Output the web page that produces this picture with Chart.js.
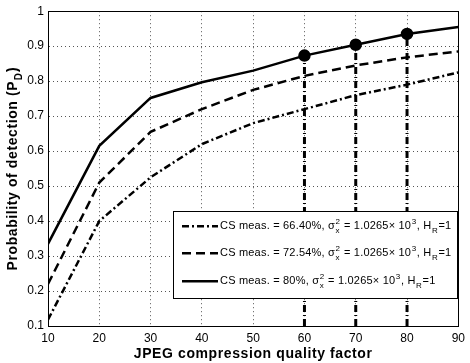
<!DOCTYPE html>
<html>
<head>
<meta charset="utf-8">
<script src="https://cdn.jsdelivr.net/npm/chart.js@4.4.1/dist/chart.umd.min.js"></script>
<style>
  html, body { margin: 0; padding: 0; background: #fff; }
  #wrap { width: 470px; height: 363px; }
</style>
</head>
<body>
<div id="wrap"><canvas id="c" width="470" height="363"></canvas></div>
<script>
// ---- data ----
const qualityFactors = [10, 20, 30, 40, 50, 60, 70, 80, 90];
const pdCS66 = [0.118, 0.40, 0.525, 0.62, 0.68, 0.72, 0.76, 0.79, 0.825];
const pdCS72 = [0.22, 0.51, 0.655, 0.72, 0.775, 0.815, 0.845, 0.868, 0.885];
const pdCS80 = [0.335, 0.615, 0.752, 0.797, 0.83, 0.873, 0.904, 0.935, 0.955];
const markedQualities = [60, 70, 80];
const yTickValues = [0.1, 0.2, 0.3, 0.4, 0.5, 0.6, 0.7, 0.8, 0.9, 1];
const xTitle = [{ t: 'JPEG compression quality factor' }];
const yTitle = [{ t: 'Probability of detection (P' }, { t: 'D', sub: true }, { t: ')' }];
const legendLabels = [
  [{ t: 'CS meas. = 66.40%, σ' }, { t: '2', t2: 'x', stack: true }, { t: ' = 1.0265× 10' }, { t: '3', sup: true }, { t: ', H' }, { t: 'R', sub: true }, { t: '=1' }],
  [{ t: 'CS meas. = 72.54%, σ' }, { t: '2', t2: 'x', stack: true }, { t: ' = 1.0265× 10' }, { t: '3', sup: true }, { t: ', H' }, { t: 'R', sub: true }, { t: '=1' }],
  [{ t: 'CS meas. = 80%, σ' }, { t: '2', t2: 'x', stack: true }, { t: ' = 1.0265× 10' }, { t: '3', sup: true }, { t: ', H' }, { t: 'R', sub: true }, { t: '=1' }]
];

const FONT = '"Liberation Sans", Arial, Helvetica, sans-serif';

function pts(ys) { return qualityFactors.map((q, i) => ({ x: q, y: ys[i] })); }

const seriesDatasets = [
  { data: pts(pdCS66), borderColor: '#000', borderWidth: 2.5, borderDash: [7, 3, 2, 3], pointRadius: 0, legendIdx: 0 },
  { data: pts(pdCS72), borderColor: '#000', borderWidth: 2.5, borderDash: [9, 5], pointRadius: 0, legendIdx: 1 },
  { data: pts(pdCS80), borderColor: '#000', borderWidth: 2.5, borderDash: [],
    pointRadius: qualityFactors.map(q => markedQualities.includes(q) ? 5 : 0),
    pointBackgroundColor: '#000', pointBorderColor: '#000', pointHoverRadius: 0, legendIdx: 2 }
];
const verticalDatasets = markedQualities.map(q => ({
  data: [{ x: q, y: yTickValues[0] }, { x: q, y: pdCS80[qualityFactors.indexOf(q)] }],
  borderColor: '#000', borderWidth: 3, borderDash: [7, 3, 1, 3], pointRadius: 0
}));

// rich text helpers
function richWidth(ctx, segs, size, weight, spacing) {
  let w = 0;
  const small = Math.round(size * 0.7);
  ctx.letterSpacing = spacing + 'px';
  segs.forEach(s => {
    if (s.stack || s.sub || s.sup) {
      ctx.font = weight + ' ' + small + 'px ' + FONT;
      const w1 = ctx.measureText(s.t).width;
      const w2 = s.t2 ? ctx.measureText(s.t2).width : 0;
      w += Math.max(w1, w2) + 1;
    } else {
      ctx.font = weight + ' ' + size + 'px ' + FONT;
      w += ctx.measureText(s.t).width;
    }
  });
  return w;
}
function drawRich(ctx, segs, x, y, size, weight, spacing) {
  ctx.textBaseline = 'middle';
  ctx.textAlign = 'left';
  ctx.letterSpacing = spacing + 'px';
  const small = Math.round(size * 0.7);
  segs.forEach(s => {
    if (s.stack) {
      ctx.font = weight + ' ' + small + 'px ' + FONT;
      ctx.fillText(s.t, x + 0.5, y - size * 0.4);
      ctx.fillText(s.t2, x + 0.5, y + size * 0.45);
      x += Math.max(ctx.measureText(s.t).width, ctx.measureText(s.t2).width) + 1;
    } else if (s.sup || s.sub) {
      ctx.font = weight + ' ' + small + 'px ' + FONT;
      ctx.fillText(s.t, x + 0.5, y + (s.sup ? -size * 0.4 : size * 0.45));
      x += ctx.measureText(s.t).width + 1;
    } else {
      ctx.font = weight + ' ' + size + 'px ' + FONT;
      ctx.fillText(s.t, x, y);
      x += ctx.measureText(s.t).width;
    }
  });
  ctx.letterSpacing = '0px';
}

const framePlugin = {
  id: 'frame',
  afterDatasetsDraw(chart) {
    const { ctx, chartArea: a } = chart;
    ctx.save();
    ctx.strokeStyle = '#000';
    ctx.lineWidth = 1;
    ctx.setLineDash([]);
    ctx.strokeRect(Math.round(a.left) + 0.5, Math.round(a.top) + 0.5, Math.round(a.right - a.left), Math.round(a.bottom - a.top));

    // legend box
    const lx = a.left + 125, ly = a.top + 200, lw = 284, lh = 87;
    ctx.fillStyle = '#fff';
    ctx.fillRect(lx, ly, lw, lh);
    ctx.strokeRect(Math.round(lx) + 0.5, Math.round(ly) + 0.5, lw, lh);
    const rowsY = [ly + 15, ly + 42, ly + 70];
    seriesDatasets.forEach(ds => {
      const i = ds.legendIdx;
      const ry = rowsY[i];
      ctx.beginPath();
      ctx.setLineDash(ds.borderDash);
      ctx.lineWidth = ds.borderWidth;
      ctx.strokeStyle = '#000';
      ctx.moveTo(lx + 9, ry);
      ctx.lineTo(lx + 45, ry);
      ctx.stroke();
      ctx.setLineDash([]);
      ctx.fillStyle = '#000';
      drawRich(ctx, legendLabels[i], lx + 47, ry, 11, 'normal', 0.2);
    });

    ctx.fillStyle = '#000';
    // x title
    const xw = richWidth(ctx, xTitle, 14, 'bold', 0.6);
    drawRich(ctx, xTitle, (a.left + a.right) / 2 - xw / 2, 354, 14, 'bold', 0.6);

    // y title with subscript
    ctx.save();
    const cy = (a.top + a.bottom) / 2;
    ctx.translate(13, cy);
    ctx.rotate(-Math.PI / 2);
    const w = richWidth(ctx, yTitle, 14, 'bold', 0.6);
    drawRich(ctx, yTitle, -w / 2, 0, 14, 'bold', 0.6);
    ctx.restore();
    ctx.restore();
  }
};

new Chart(document.getElementById('c'), {
  type: 'line',
  data: { datasets: [...verticalDatasets, ...seriesDatasets] },
  options: {
    responsive: false,
    animation: false,
    devicePixelRatio: 1,
    layout: { padding: { left: 0, right: 7, top: 5, bottom: 0 } },
    plugins: { legend: { display: false }, tooltip: { enabled: false } },
    elements: { line: { tension: 0 } },
    scales: {
      x: {
        type: 'linear', min: 10, max: 90,
        afterFit: s => { s.height = 37; },
        ticks: { stepSize: 10, color: '#000', font: { family: FONT, size: 12 }, padding: 5, maxRotation: 0 },
        grid: { color: '#555', lineWidth: 1, drawTicks: false },
        border: { color: '#000', dash: [1, 3] }
      },
      y: {
        type: 'linear', min: 0.1, max: 1,
        afterFit: s => { s.width = 48; },
        afterBuildTicks: s => { s.ticks = yTickValues.map(v => ({ value: v })); },
        ticks: { color: '#000', font: { family: FONT, size: 12 }, padding: 4,
          callback: v => String(Math.round(v * 10) / 10) },
        grid: { color: '#555', lineWidth: 1, drawTicks: false },
        border: { color: '#000', dash: [1, 3] }
      }
    }
  },
  plugins: [framePlugin]
});
</script>
</body>
</html>
